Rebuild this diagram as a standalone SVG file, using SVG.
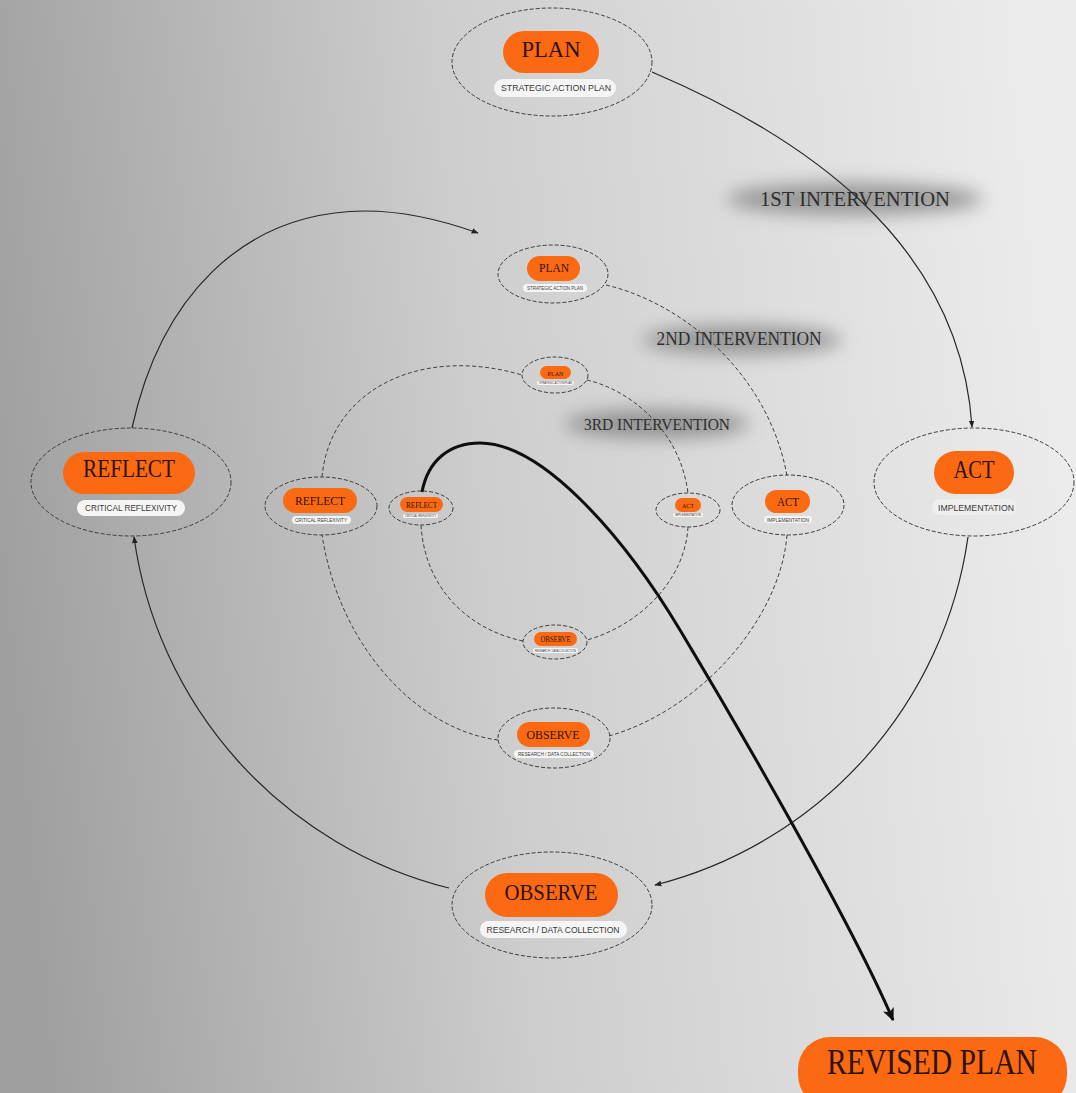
<svg xmlns="http://www.w3.org/2000/svg" width="1076" height="1093" viewBox="0 0 1076 1093">
<defs>
<linearGradient id="bg" x1="0" y1="0.55" x2="1" y2="0.45">
<stop offset="0" stop-color="#9f9f9f"/>
<stop offset="0.45" stop-color="#cdcdcd"/>
<stop offset="1" stop-color="#ececec"/>
</linearGradient>
<filter id="blur" x="-50%" y="-100%" width="200%" height="300%"><feGaussianBlur stdDeviation="9"/></filter>
<filter id="soft"><feGaussianBlur stdDeviation="0.4"/></filter>
<marker id="ah" viewBox="0 0 10 10" refX="9" refY="5" markerWidth="7" markerHeight="7" orient="auto" markerUnits="userSpaceOnUse"><path d="M0,1 L10,5 L0,9 z" fill="#222"/></marker>
<marker id="ahb" viewBox="0 0 10 10" refX="9" refY="5" markerWidth="13" markerHeight="13" orient="auto" markerUnits="userSpaceOnUse"><path d="M0,0.5 L10,5 L0,9.5 L2.5,5 z" fill="#111"/></marker>
<style>
.ring{fill:none;stroke:#3c3c3c;stroke-width:1;stroke-dasharray:4 2}
.pill{fill:#fb6a12}
.sub{fill:#f5f5f5}
.lbl{font-family:"Liberation Serif",serif;fill:#2b1308;text-anchor:middle}
.st{font-family:"Liberation Sans",sans-serif;fill:#3a3a3a;text-anchor:middle}
.conn{fill:none;stroke:#262626;stroke-width:1.2}
.dash{fill:none;stroke:#404040;stroke-width:1;stroke-dasharray:4 2.5}
.thick{fill:none;stroke:#0e0e0e;stroke-width:3}
.shadow{fill:#5a5a5a;opacity:0.55}
.iv{font-family:"Liberation Serif",serif;fill:#2e2e2e;text-anchor:middle}
</style>
</defs>
<rect x="0" y="0" width="1076" height="1093" fill="url(#bg)"/>

<g id="intervention-labels">
<ellipse class="shadow" cx="855" cy="199" rx="128" ry="16" filter="url(#blur)"/>
<ellipse class="shadow" cx="742" cy="340" rx="100" ry="14" filter="url(#blur)"/>
<ellipse class="shadow" cx="657" cy="424" rx="92" ry="14" filter="url(#blur)"/>
<text class="iv" x="855" y="206" font-size="21" textLength="190" lengthAdjust="spacingAndGlyphs">1ST INTERVENTION</text>
<text class="iv" x="739" y="345" font-size="18" textLength="165" lengthAdjust="spacingAndGlyphs">2ND INTERVENTION</text>
<text class="iv" x="657" y="430" font-size="17" textLength="146" lengthAdjust="spacingAndGlyphs">3RD INTERVENTION</text>
</g>

<g id="connectors">
<path class="conn" d="M652,72 C800,135 960,240 972,427" marker-end="url(#ah)"/>
<path class="conn" d="M968,537 A420,420 0 0 1 655,885" marker-end="url(#ah)"/>
<path class="conn" d="M449,888 A421,421 0 0 1 134,537" marker-end="url(#ah)"/>
<path class="conn" d="M132,428 C160,300 240,212 365,211 C410,211 450,223 478,233" marker-end="url(#ah)"/>
<path class="dash" d="M606,285 C690,305 770,380 787,476"/>
<path class="dash" d="M787,535 C780,620 700,710 609,736"/>
<path class="dash" d="M498,740 C420,730 340,650 322,535"/>
<path class="dash" d="M322,477 C330,390 420,345 522,375"/>
<path class="dash" d="M587,380 C630,390 680,430 688,493"/>
<path class="dash" d="M688,527 C685,580 640,625 587,640"/>
<path class="dash" d="M523,641 C470,630 425,590 421,525"/>
<path class="thick" d="M422,492 C428,460 450,443 480,443 C540,443 620,530 680,630 C740,730 850,920 893,1020" marker-end="url(#ahb)"/>
</g>

<g id="plan-outer">
<ellipse class="ring" cx="552" cy="62" rx="100" ry="54"/>
<rect class="pill" x="503" y="31" width="96" height="42" rx="21"/>
<text class="lbl" x="551" y="57" font-size="24" textLength="59" lengthAdjust="spacingAndGlyphs">PLAN</text>
<rect class="sub" x="494" y="79" width="122" height="18" rx="9"/>
<text class="st" x="556" y="91" font-size="8.5" textLength="110" lengthAdjust="spacingAndGlyphs">STRATEGIC ACTION PLAN</text>
</g>

<g id="act-outer">
<ellipse class="ring" cx="974" cy="482" rx="100" ry="54"/>
<rect class="pill" x="934" y="451" width="80" height="43" rx="21.5"/>
<text class="lbl" x="974" y="478" font-size="25" textLength="41" lengthAdjust="spacingAndGlyphs">ACT</text>
<rect x="932" y="499" width="84" height="16" rx="8" fill="#eeeeee"/>
<text class="st" x="976" y="511" font-size="8.5" textLength="76" lengthAdjust="spacingAndGlyphs">IMPLEMENTATION</text>
</g>

<g id="observe-outer">
<ellipse class="ring" cx="552" cy="905" rx="100" ry="53"/>
<rect class="pill" x="485" y="873" width="133" height="44" rx="22"/>
<text class="lbl" x="551" y="900" font-size="24" textLength="93" lengthAdjust="spacingAndGlyphs">OBSERVE</text>
<rect class="sub" x="480" y="921" width="147" height="17" rx="8.5"/>
<text class="st" x="553" y="933" font-size="8.5" textLength="133" lengthAdjust="spacingAndGlyphs">RESEARCH / DATA COLLECTION</text>
</g>

<g id="reflect-outer">
<ellipse class="ring" cx="131" cy="482" rx="100" ry="54"/>
<rect class="pill" x="63" y="452" width="132" height="42" rx="21"/>
<text class="lbl" x="129" y="477" font-size="26" textLength="92" lengthAdjust="spacingAndGlyphs">REFLECT</text>
<rect class="sub" x="77" y="500" width="108" height="16" rx="8"/>
<text class="st" x="131" y="511" font-size="8.5" textLength="92" lengthAdjust="spacingAndGlyphs">CRITICAL REFLEXIVITY</text>
</g>

<g id="plan-mid">
<ellipse class="ring" cx="553" cy="274" rx="55" ry="29"/>
<rect class="pill" x="527" y="256" width="53" height="25" rx="12.5"/>
<text class="lbl" x="554" y="272" font-size="13" textLength="30" lengthAdjust="spacingAndGlyphs">PLAN</text>
<rect class="sub" x="523" y="284" width="64" height="8" rx="4"/>
<text class="st" x="555" y="290" font-size="4.5" textLength="56" lengthAdjust="spacingAndGlyphs">STRATEGIC ACTION PLAN</text>
</g>

<g id="act-mid">
<ellipse class="ring" cx="788" cy="505" rx="56" ry="30"/>
<rect class="pill" x="765" y="490" width="45" height="23" rx="11.5"/>
<text class="lbl" x="788" y="506" font-size="12" textLength="22" lengthAdjust="spacingAndGlyphs">ACT</text>
<rect class="sub" x="764" y="516" width="48" height="7" rx="3.5"/>
<text class="st" x="788" y="521.5" font-size="4.5" textLength="42" lengthAdjust="spacingAndGlyphs">IMPLEMENTATION</text>
</g>

<g id="observe-mid">
<ellipse class="ring" cx="554" cy="738" rx="56" ry="30"/>
<rect class="pill" x="517" y="722" width="73" height="25" rx="12.5"/>
<text class="lbl" x="553" y="739" font-size="13" textLength="53" lengthAdjust="spacingAndGlyphs">OBSERVE</text>
<rect class="sub" x="514" y="750" width="80" height="8" rx="4"/>
<text class="st" x="554" y="756" font-size="4.5" textLength="72" lengthAdjust="spacingAndGlyphs">RESEARCH / DATA COLLECTION</text>
</g>

<g id="reflect-mid">
<ellipse class="ring" cx="321" cy="506" rx="56" ry="29"/>
<rect class="pill" x="283" y="488" width="74" height="25" rx="12.5"/>
<text class="lbl" x="320" y="505" font-size="13" textLength="50" lengthAdjust="spacingAndGlyphs">REFLECT</text>
<rect class="sub" x="292" y="516" width="59" height="8" rx="4"/>
<text class="st" x="321" y="522" font-size="4.5" textLength="52" lengthAdjust="spacingAndGlyphs">CRITICAL REFLEXIVITY</text>
</g>

<g id="plan-inner">
<ellipse class="ring" cx="555" cy="375" rx="33" ry="18"/>
<rect class="pill" x="540" y="366" width="31" height="13" rx="6.5"/>
<text class="lbl" x="555.5" y="375.5" font-size="7" textLength="16" lengthAdjust="spacingAndGlyphs">PLAN</text>
<rect class="sub" x="537" y="381" width="37" height="4" rx="2"/>
<text class="st" x="555.5" y="384.2" font-size="3" textLength="33" lengthAdjust="spacingAndGlyphs">STRATEGIC ACTION PLAN</text>
</g>

<g id="act-inner">
<ellipse class="ring" cx="688" cy="510" rx="32" ry="17"/>
<rect class="pill" x="675" y="498" width="26" height="14" rx="7"/>
<text class="lbl" x="688" y="508" font-size="7" textLength="12" lengthAdjust="spacingAndGlyphs">ACT</text>
<rect class="sub" x="673" y="513" width="30" height="4" rx="2"/>
<text class="st" x="688" y="516.2" font-size="3" textLength="26" lengthAdjust="spacingAndGlyphs">IMPLEMENTATION</text>
</g>

<g id="observe-inner">
<ellipse class="ring" cx="555" cy="642" rx="32" ry="17"/>
<rect class="pill" x="534" y="632" width="43" height="14" rx="7"/>
<text class="lbl" x="555.5" y="642" font-size="7.5" textLength="30" lengthAdjust="spacingAndGlyphs">OBSERVE</text>
<rect class="sub" x="533" y="648" width="45" height="5" rx="2.5"/>
<text class="st" x="555.5" y="651.6" font-size="3" textLength="41" lengthAdjust="spacingAndGlyphs">RESEARCH / DATA COLLECTION</text>
</g>

<g id="reflect-inner">
<ellipse class="ring" cx="421" cy="508" rx="32" ry="17"/>
<rect class="pill" x="400" y="497" width="43" height="15" rx="7.5"/>
<text class="lbl" x="421.5" y="507.5" font-size="8" textLength="31" lengthAdjust="spacingAndGlyphs">REFLECT</text>
<rect class="sub" x="403" y="514" width="35" height="4" rx="2"/>
<text class="st" x="420.5" y="517.2" font-size="3" textLength="31" lengthAdjust="spacingAndGlyphs">CRITICAL REFLEXIVITY</text>
</g>

<g id="revised-plan">
<rect class="pill" x="798" y="1037" width="269" height="70" rx="32"/>
<text class="lbl" x="932" y="1074" font-size="35" textLength="210" lengthAdjust="spacingAndGlyphs">REVISED PLAN</text>
</g>
</svg>
